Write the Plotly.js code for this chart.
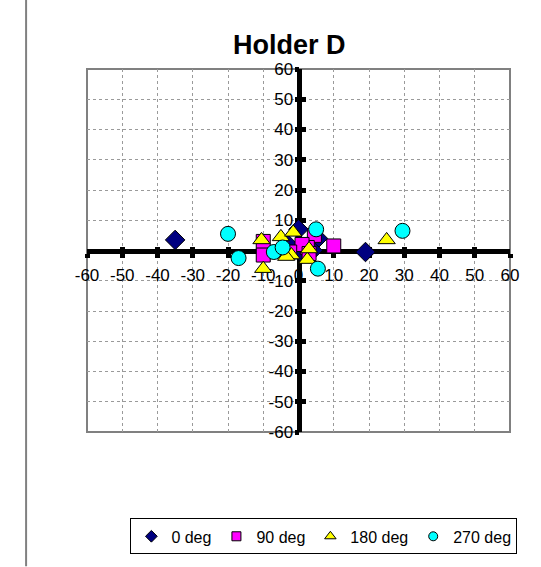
<!DOCTYPE html>
<html>
<head>
<meta charset="utf-8">
<script src="https://cdn.plot.ly/plotly-3.0.1.min.js"></script>
<style>html,body{margin:0;padding:0;background:#fff;}#chart{width:541px;height:567px;}</style>
</head>
<body>
<div id="chart"></div>
<script>
// ---- data ----
var seriesNames = ["0 deg", "90 deg", "180 deg", "270 deg"];
var deg0X = [-35, 19, 0, 5.5, 2, -3, 1, 4];
var deg0Y = [3.5, -0.5, 7, 4, 1, 2, -1, 0];
var deg90X = [10, -10, -10, 4.5, 2.5, 1, -2.5, 3];
var deg90Y = [1.5, 3, -1.5, 5, 1, 2, -0.5, -1];
var deg180X = [25, -10, -10.5, -5, -1.5, -2, 2.5, 3, -3.5];
var deg180Y = [3.5, -6, 3.5, 4.5, 6, -1.5, -3, 0.5, -2];
var deg270X = [-20, -17, 29.5, 5, 5.5, -7, -4.5];
var deg270Y = [5.5, -2.5, 6.5, 7, -6, -0.5, 1];
var tickVals = [-60, -50, -40, -30, -20, -10, 0, 10, 20, 30, 40, 50, 60];
var tickText = ["-60", "-50", "-40", "-30", "-20", "-10", "0", "10", "20", "30", "40", "50", "60"];

var FONT = "Arial, 'Liberation Sans', sans-serif";
var styles = [
  {symbol: "diamond", color: "#000080", size: 15, lsize: 9},
  {symbol: "square", color: "#FF00FF", size: 14, lsize: 9},
  {symbol: "triangle-up", color: "#FFFF00", size: 15, lsize: 10},
  {symbol: "circle", color: "#00FFFF", size: 15, lsize: 9}
];
var xs = [deg0X, deg90X, deg180X, deg270X];
var ys = [deg0Y, deg90Y, deg180Y, deg270Y];

var traces = [];
for (var i = 0; i < 4; i++) {
  traces.push({
    type: "scatter", mode: "markers", x: xs[i], y: ys[i], name: seriesNames[i],
    showlegend: false, xaxis: "x", yaxis: "y",
    marker: {symbol: styles[i].symbol, color: styles[i].color, size: styles[i].size,
             line: {color: "#000", width: 1}},
    cliponaxis: false
  });
}
for (var j = 0; j < 4; j++) {
  traces.push({
    type: "scatter", mode: "markers", x: [null], y: [null], name: seriesNames[j],
    showlegend: true, xaxis: "x2", yaxis: "y2",
    marker: {symbol: styles[j].symbol, color: styles[j].color, size: styles[j].lsize,
             line: {color: "#000", width: 1}}
  });
}

var baseAxis = {
  range: [-60, 60], tickmode: "array", tickvals: tickVals, ticktext: tickText,
  showgrid: true, gridcolor: "#9a9a9a", griddash: "dot", gridwidth: 1,
  zeroline: false, showline: true, linecolor: "#000", linewidth: 5,
  ticklen: 4, tickwidth: 5, tickcolor: "#000",
  tickfont: {family: FONT, size: 17, color: "#000"},
  anchor: "free", position: 0.5, layer: "below traces", fixedrange: true
};
var overAxis = {
  range: [-60, 60], tickmode: "array", tickvals: tickVals,
  showgrid: false, zeroline: false, showline: false, showticklabels: false,
  ticklen: 4, tickwidth: 5, tickcolor: "#000",
  anchor: "free", position: 0.5, layer: "below traces", fixedrange: true
};

var layout = {
  width: 541, height: 567,
  margin: {l: 87, r: 31, t: 69, b: 132},
  paper_bgcolor: "#fff", plot_bgcolor: "#fff",
  font: {family: FONT, size: 17, color: "#000"},
  title: {text: "<b>Holder D</b>", font: {family: FONT, size: 27, color: "#000"},
          xref: "paper", x: 0.478, xanchor: "center", yref: "container", y: 0.922, yanchor: "middle"},
  xaxis: Object.assign({}, baseAxis, {ticks: "outside", ticklabelstandoff: 3}),
  yaxis: Object.assign({}, baseAxis, {ticks: "inside"}),
  xaxis2: Object.assign({}, overAxis, {overlaying: "x", ticks: "inside"}),
  yaxis2: Object.assign({}, overAxis, {overlaying: "y", ticks: "outside"}),
  showlegend: true,
  legend: {orientation: "h", x: 0.56, xanchor: "center", y: -0.238, yanchor: "top",
           bordercolor: "#000", borderwidth: 1, bgcolor: "#fff",
           font: {family: FONT, size: 16, color: "#000"}, itemwidth: 30},
  shapes: [
    {type: "rect", xref: "paper", yref: "paper", x0: 0, x1: 1, y0: 0, y1: 1,
     line: {color: "#808080", width: 2}, layer: "below"},
    {type: "line", xref: "paper", yref: "paper", x0: -0.144, x1: -0.144, y0: -0.37, y1: 1.2,
     line: {color: "#808080", width: 2}}
  ]
};

Plotly.newPlot("chart", traces, layout, {displayModeBar: false, staticPlot: true});
</script>
</body>
</html>
